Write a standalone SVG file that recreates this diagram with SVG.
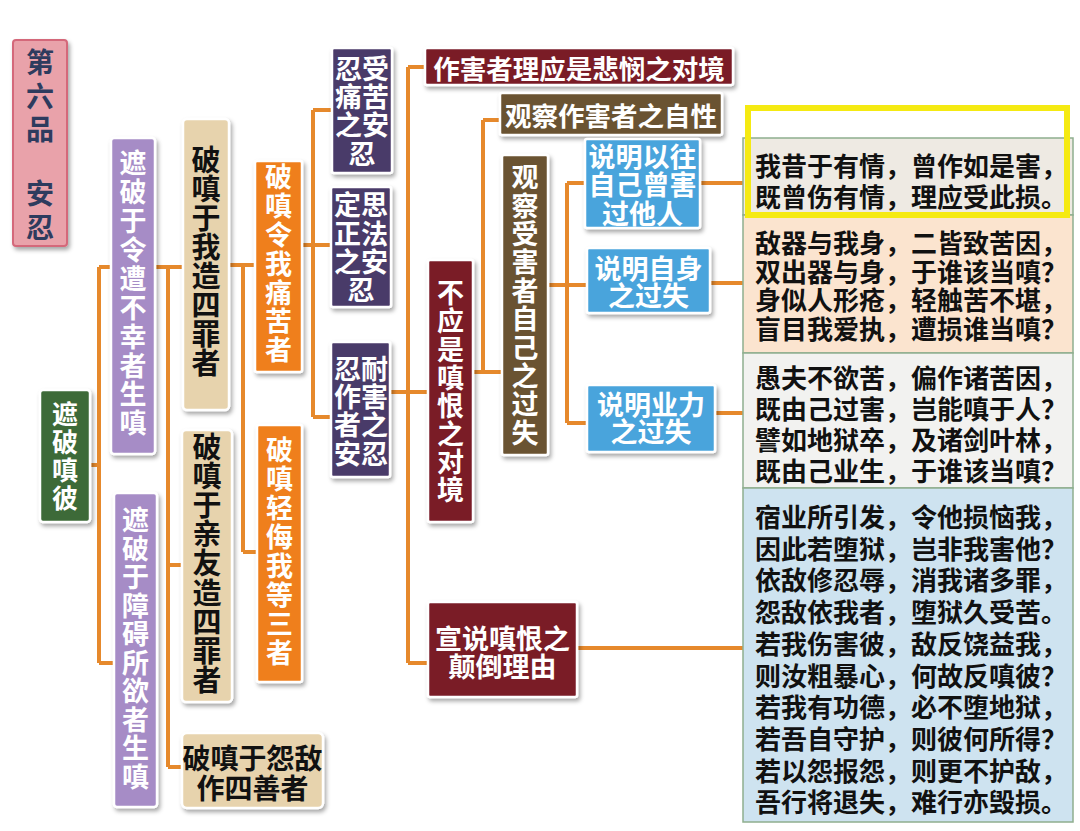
<svg xmlns="http://www.w3.org/2000/svg" width="1080" height="831" viewBox="0 0 1080 831">
<defs>
<filter id="sh" x="-20%" y="-20%" width="150%" height="150%">
<feDropShadow dx="2" dy="3" stdDeviation="2" flood-color="#000" flood-opacity="0.35"/>
</filter>
<style>
text{font-family:"Noto Sans CJK SC","Noto Sans CJK TC",sans-serif;font-weight:700;dominant-baseline:central;text-anchor:middle}
.vt{writing-mode:vertical-rl;text-orientation:upright}
.n{stroke:#fff;stroke-width:2.5;filter:url(#sh)}
.w{fill:#fff}
.k{fill:#111}
.v27{font-size:27px}
.v29{font-size:29px}
.pink{fill:#e9a2aa;stroke:#d4687a;stroke-width:2;filter:url(#sh)}
.green{fill:#3d6a37}
.lav{fill:#a68cc6}
.tan{fill:#e7d3ad}
.org{fill:#ef7f1c}
.dpur{fill:#4a3a69}
.dred{fill:#7a1d28}
.brn{fill:#6a5231}
.blue{fill:#4aa4dc}
.c{fill:none;stroke:#e6892c;stroke-width:4}
.tb{stroke:#8fae8f;stroke-width:1.5}
.tt{font-size:26px;text-anchor:start;fill:#111}
</style>
</defs>
<rect width="1080" height="831" fill="#fff"/>

<g id="connectors" class="c">
<path d="M90 465H99M99 267V663M99 267H111M99 663H114"/>
<path d="M155 267H183M168 267V767M168 565H182M168 767H182"/>
<path d="M229 265H255M243 265V552M243 552H257"/>
<path d="M302 245H331M313 110V417M313 110H332M313 417H331"/>
<path d="M390 392H428M408 67V663M408 67H425M408 663H428"/>
<path d="M473 372H502M483 120V372M483 120H500"/>
<path d="M548 285H587M567 183V423M567 183H585M567 423H587"/>
<path d="M700 183H743M710 283H743M715 413H743M577 648H743"/>
</g>

<g id="title">
<rect class="pink" x="13" y="40" width="54" height="206" rx="3"/>
<text class="vt" x="40" y="99" style="fill:#2e3b5e;font-size:28px;letter-spacing:5.5px">第六品</text>
<text class="vt" x="40" y="213" style="fill:#2e3b5e;font-size:28px;letter-spacing:6px">安忍</text>
</g>

<g id="n-zhepo-chenbi">
<rect class="n green" x="40" y="390" width="50" height="132" rx="3"/>
<text class="w vt" x="65" y="457" style="font-size:26px;letter-spacing:1.7px">遮破嗔彼</text>
</g>

<g id="n-lingzao">
<rect class="n lav" x="111" y="138" width="44" height="316" rx="3"/>
<text class="w vt v27" x="133" y="294" style="letter-spacing:1.9px">遮破于令遭不幸者生嗔</text>
</g>

<g id="n-zhangai">
<rect class="n lav" x="114" y="493" width="43" height="314" rx="3"/>
<text class="w vt v27" x="135.5" y="649" style="letter-spacing:1.55px">遮破于障碍所欲者生嗔</text>
</g>

<g id="n-wozao">
<rect class="n tan" x="183" y="119" width="46" height="291" rx="4"/>
<text class="k vt v29" x="206" y="261.5">破嗔于我造四罪者</text>
</g>

<g id="n-qinyou">
<rect class="n tan" x="182" y="430" width="50" height="272" rx="4"/>
<text class="k vt v29" x="207" y="563.5" style="letter-spacing:0.1px">破嗔于亲友造四罪者</text>
</g>

<g id="n-yuandi">
<rect class="n tan" x="182" y="733" width="141" height="75" rx="5"/>
<text class="k" style="font-size:28px"><tspan x="252.5" y="757">破嗔于怨敌</tspan><tspan x="252.5" y="787">作四善者</tspan></text>
</g>

<g id="n-tongku">
<rect class="n org" x="255" y="161" width="47" height="211" rx="2"/>
<text class="w vt v27" x="278.5" y="264.5" style="letter-spacing:1.8px">破嗔令我痛苦者</text>
</g>

<g id="n-qingwu">
<rect class="n org" x="257" y="425" width="45" height="257" rx="2"/>
<text class="w vt v27" x="279.5" y="552.5" style="letter-spacing:2px">破嗔轻侮我等三者</text>
</g>

<g id="n-renshou">
<rect class="n dpur" x="332" y="48" width="60" height="125" rx="2"/>
<text class="w v27"><tspan x="362" y="67">忍受</tspan><tspan x="362" y="95">痛苦</tspan><tspan x="362" y="123">之安</tspan><tspan x="362" y="152">忍</tspan></text>
</g>

<g id="n-dingsi">
<rect class="n dpur" x="331" y="187" width="60" height="120" rx="2"/>
<text class="w v27"><tspan x="361" y="203">定思</tspan><tspan x="361" y="232">正法</tspan><tspan x="361" y="260">之安</tspan><tspan x="361" y="288">忍</tspan></text>
</g>

<g id="n-rennai">
<rect class="n dpur" x="331" y="342" width="59" height="135" rx="2"/>
<text class="w v27"><tspan x="361" y="367">忍耐</tspan><tspan x="361" y="395">作害</tspan><tspan x="361" y="423">者之</tspan><tspan x="361" y="452">安忍</tspan></text>
</g>

<g id="n-beimin">
<rect class="n dred" x="425" y="48" width="308" height="37" rx="2"/>
<text class="w" style="font-size:26.5px" x="579" y="67">作害者理应是悲悯之对境</text>
</g>

<g id="n-bu-ying">
<rect class="n dred" x="428" y="260" width="45" height="262" rx="2"/>
<text class="w vt v27" x="450.5" y="392" style="letter-spacing:1.1px">不应是嗔恨之对境</text>
</g>

<g id="n-zixing">
<rect class="n brn" x="500" y="93" width="222" height="42" rx="2"/>
<text class="w" style="font-size:26.5px" x="611" y="114">观察作害者之自性</text>
</g>

<g id="n-shouhai">
<rect class="n brn" x="502" y="155" width="46" height="300" rx="2"/>
<text class="w vt v27" x="525" y="305.5" style="letter-spacing:1.4px">观察受害者自己之过失</text>
</g>

<g id="n-yiwang">
<rect class="n blue" x="585" y="139" width="115" height="89" rx="2"/>
<text class="w v27"><tspan x="642.5" y="155">说明以往</tspan><tspan x="642.5" y="183">自己曾害</tspan><tspan x="642.5" y="212">过他人</tspan></text>
</g>

<g id="n-zishen">
<rect class="n blue" x="587" y="248" width="123" height="65" rx="2"/>
<text class="w v27"><tspan x="648.5" y="267">说明自身</tspan><tspan x="648.5" y="294">之过失</tspan></text>
</g>

<g id="n-yeli">
<rect class="n blue" x="587" y="385" width="128" height="67" rx="2"/>
<text class="w v27"><tspan x="651" y="403">说明业力</tspan><tspan x="651" y="430">之过失</tspan></text>
</g>

<g id="n-diandao">
<rect class="n dred" x="428" y="602" width="149" height="95" rx="2"/>
<text class="w v27"><tspan x="502.5" y="637">宣说嗔恨之</tspan><tspan x="502.5" y="665">颠倒理由</tspan></text>
</g>

<g id="verse-a">
<rect class="tb" x="743" y="138" width="330" height="77" fill="#eeeae3"/>
<text class="tt"><tspan x="755" y="164">我昔于有情，曾作如是害，</tspan><tspan x="755" y="195">既曾伤有情，理应受此损。</tspan></text>
</g>

<g id="verse-b">
<rect class="tb" x="743" y="215" width="330" height="138" fill="#fbe4cf"/>
<text class="tt"><tspan x="755" y="241">敌器与我身，二皆致苦因，</tspan><tspan x="755" y="269.5">双出器与身，于谁该当嗔？</tspan><tspan x="755" y="298">身似人形疮，轻触苦不堪，</tspan><tspan x="755" y="327">盲目我爱执，遭损谁当嗔？</tspan></text>
</g>

<g id="verse-c">
<rect class="tb" x="743" y="353" width="330" height="135" fill="#f2f2f0"/>
<text class="tt"><tspan x="755" y="376">愚夫不欲苦，偏作诸苦因，</tspan><tspan x="755" y="407">既由己过害，岂能嗔于人？</tspan><tspan x="755" y="438">譬如地狱卒，及诸剑叶林，</tspan><tspan x="755" y="469">既由己业生，于谁该当嗔？</tspan></text>
</g>

<g id="verse-d">
<rect class="tb" x="743" y="488" width="330" height="334" fill="#cee3f0"/>
<text class="tt"><tspan x="755" y="515">宿业所引发，令他损恼我，</tspan><tspan x="755" y="546.7">因此若堕狱，岂非我害他？</tspan><tspan x="755" y="578.4">依敌修忍辱，消我诸多罪，</tspan><tspan x="755" y="610">怨敌依我者，堕狱久受苦。</tspan><tspan x="755" y="641.8">若我伤害彼，敌反饶益我，</tspan><tspan x="755" y="673.5">则汝粗暴心，何故反嗔彼？</tspan><tspan x="755" y="705.2">若我有功德，必不堕地狱，</tspan><tspan x="755" y="736.9">若吾自守护，则彼何所得？</tspan><tspan x="755" y="768.6">若以怨报怨，则更不护敌，</tspan><tspan x="755" y="800.3">吾行将退失，难行亦毁损。</tspan></text>
</g>

<g id="highlight">
<rect x="748" y="108" width="319" height="107" fill="none" stroke="#f5ea12" stroke-width="6"/>
</g>
</svg>
